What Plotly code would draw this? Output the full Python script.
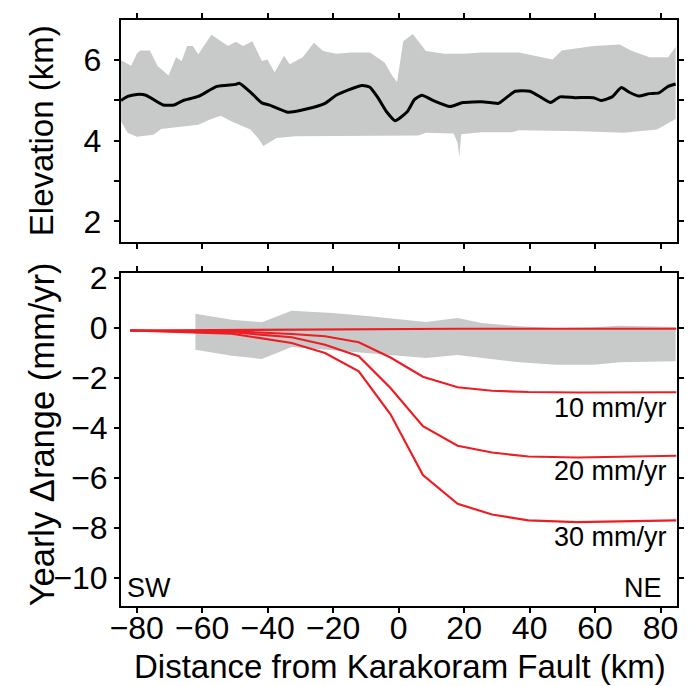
import plotly.graph_objects as go

# ---------------- data ----------------
# Elevation profile (km) vs distance from Karakoram Fault (km)
elev_mean_x = [-84.8, -82.8, -80.0, -77.2, -72.0, -68.6, -65.8, -61.2, -55.5, -49.8, -48.7,
               -45.3, -41.8, -39.6, -33.9, -28.2, -22.5, -19.1, -15.7, -11.1, -8.8, -6.5,
               -3.7, -1.1, 2.6, 4.8, 7.1, 10.5, 15.7, 19.6, 25.3, 28.8, 30.5, 35.6, 40.1,
               43.6, 46.4, 49.3, 53.8, 59.5, 61.8, 65.2, 68.0, 70.3, 73.2, 76.6, 79.5,
               82.3, 84.6]
elev_mean = [5.00, 5.10, 5.15, 5.13, 4.89, 4.89, 5.00, 5.10, 5.35, 5.40, 5.43,
             5.21, 4.94, 4.89, 4.71, 4.79, 4.93, 5.13, 5.25, 5.37, 5.33, 5.09,
             4.72, 4.50, 4.72, 5.02, 5.13, 5.00, 4.85, 4.95, 4.97, 4.94, 4.93, 5.23, 5.23,
             5.07, 4.95, 5.09, 5.07, 5.07, 5.00, 5.09, 5.32, 5.21, 5.11, 5.17, 5.19,
             5.35, 5.41]

elev_max_x = [-84.8, -81.7, -80.0, -78.9, -76.0, -73.7, -70.3, -68.0, -66.3, -64.6, -62.9,
              -61.2, -57.2, -54.4, -52.1, -49.8, -47.5, -44.7, -41.8, -40.1, -37.9, -35.0,
              -33.3, -29.3, -25.9, -23.1, -19.1, -14.5, -8.8, -4.3, -2.0, -0.5, 1.4, 4.3,
              8.3, 14.0, 19.6, 25.3, 36.7, 47.0, 49.8, 59.5, 67.5, 70.9, 76.6, 82.3, 84.6]
elev_max = [6.00, 5.86, 6.16, 6.24, 6.24, 5.86, 5.62, 6.07, 5.98, 6.35, 6.35,
            6.15, 6.63, 6.47, 6.35, 6.46, 6.35, 6.47, 5.98, 6.02, 5.70, 6.11,
            5.90, 6.07, 6.43, 6.23, 6.16, 6.19, 6.19, 5.94, 5.62, 5.46, 6.47, 6.65,
            6.23, 6.16, 6.16, 6.19, 6.19, 6.02, 6.24, 6.35, 6.39, 6.24, 6.07, 6.07, 6.33]

elev_min_x = [-84.8, -82.8, -80.0, -74.9, -72.6, -61.2, -57.8, -54.4, -51.0, -45.3, -43.0,
              -41.3, -37.3, -31.6, -14.5, 6.0, 8.3, 16.8, 18.0, 18.5, 19.1, 25.3, 34.5,
              36.7, 56.1, 68.6, 78.9, 82.3, 84.6]
elev_min = [4.48, 4.20, 4.10, 4.15, 4.29, 4.40, 4.52, 4.62, 4.48, 4.28, 4.07,
            3.87, 4.07, 4.11, 4.11, 4.13, 4.20, 4.18, 3.95, 3.59, 4.16, 4.21, 4.21,
            4.26, 4.24, 4.20, 4.28, 4.44, 4.54]

# Observed yearly range change envelope (mm/yr)
obs_x = [-62.1, -51.0, -41.8, -32.7, -20.2, -8.8, 8.3, 18.0, 25.3, 36.7, 48.1, 59.5, 67.5, 84.6]
obs_upper = [0.57, 0.33, 0.23, 0.69, 0.60, 0.47, 0.24, 0.40, 0.20, 0.07, 0.00, 0.03, 0.09, 0.04]
obs_lower = [-0.87, -1.11, -1.24, -0.76, -0.89, -1.00, -1.20, -1.08, -1.20, -1.37, -1.47, -1.47, -1.37, -1.33]

# Modelled yearly range change for different slip rates
model_x = [-82.0, -51.0, -32.7, -22.5, -12.2, -2.5, 7.4, 18.0, 28.5, 39.6, 54.4, 84.8]
model_0 = [-0.10, -0.07, -0.05, -0.04, -0.03, -0.03, -0.03, -0.03, -0.03, -0.03, -0.03, -0.03]
model_10 = [-0.10, -0.13, -0.24, -0.33, -0.57, -1.18, -1.95, -2.37, -2.51, -2.56, -2.58, -2.57]
model_20 = [-0.10, -0.17, -0.37, -0.67, -1.13, -2.40, -3.93, -4.71, -4.98, -5.14, -5.18, -5.11]
model_30 = [-0.10, -0.23, -0.60, -1.00, -1.73, -3.45, -5.88, -7.03, -7.46, -7.69, -7.76, -7.69]
rate_labels = ["10 mm/yr", "20 mm/yr", "30 mm/yr"]
rate_label_y = [-3.2, -5.7, -8.35]

x_ticks = [-80, -60, -40, -20, 0, 20, 40, 60, 80]
elev_ticks = [2, 3, 4, 5, 6]
elev_ticktext = ["2", "", "4", "", "6"]
range_ticks = [2, 0, -2, -4, -6, -8, -10]

x_title = "Distance from Karakoram Fault (km)"
elev_title = "Elevation (km)"
range_title = "Yearly \u0394range (mm/yr)"

# ---------------- style ----------------
FONT = "Arial, Liberation Sans, sans-serif"
GRAY = "rgb(200,201,201)"
RED = "rgb(236,30,36)"
TICK_FS = 32
TITLE_FS = 33
ANN_FS = 27
THIN = "\u2009"

W, H = 695, 686
xdom = [112 / W, 678 / W]
top_dom = [1 - 233 / H, 1 - 7 / H]
bot_dom = [1 - 604 / H, 1 - 265 / H]
XRANGE = [-84.8, 85.1]

fig = go.Figure()

# top panel: elevation envelope + mean
fig.add_trace(go.Scatter(
    x=elev_max_x + elev_min_x[::-1], y=elev_max + elev_min[::-1],
    fill="toself", fillcolor=GRAY, line=dict(width=0), mode="lines",
    hoverinfo="skip", xaxis="x", yaxis="y"))
fig.add_trace(go.Scatter(
    x=elev_mean_x, y=elev_mean, mode="lines",
    line=dict(color="black", width=3, shape="spline", smoothing=0.5), xaxis="x", yaxis="y"))

# bottom panel: observed envelope
fig.add_trace(go.Scatter(
    x=obs_x + obs_x[::-1], y=obs_upper + obs_lower[::-1],
    fill="toself", fillcolor=GRAY, line=dict(width=0), mode="lines",
    hoverinfo="skip", xaxis="x2", yaxis="y2"))
for ys in (model_0, model_10, model_20, model_30):
    fig.add_trace(go.Scatter(
        x=model_x, y=ys, mode="lines",
        line=dict(color=RED, width=2.2), xaxis="x2", yaxis="y2"))

# empty trace that only carries the tick-label axis of the bottom panel
fig.add_trace(go.Scatter(x=x_ticks, y=[None] * len(x_ticks), mode="lines",
                         hoverinfo="skip", xaxis="x3", yaxis="y2"))

annotations = []
for lab, yy in zip(rate_labels, rate_label_y):
    annotations.append(dict(x=82.5, y=yy, xref="x2", yref="y2", text=lab,
                            showarrow=False, xanchor="right", yanchor="middle",
                            font=dict(family=FONT, size=ANN_FS, color="black")))
annotations.append(dict(x=-83.5, y=-10.4, xref="x2", yref="y2", text="SW",
                        showarrow=False, xanchor="left", yanchor="middle",
                        font=dict(family=FONT, size=ANN_FS, color="black")))
annotations.append(dict(x=81, y=-10.4, xref="x2", yref="y2", text="NE",
                        showarrow=False, xanchor="right", yanchor="middle",
                        font=dict(family=FONT, size=ANN_FS, color="black")))
# axis titles as annotations for exact placement
annotations.append(dict(x=396 / W, y=1 - 666 / H, xref="paper", yref="paper", text=x_title,
                        showarrow=False, xanchor="center", yanchor="middle",
                        font=dict(family=FONT, size=TITLE_FS, color="black")))
annotations.append(dict(x=31 / W, y=sum(top_dom) / 2, xref="paper", yref="paper",
                        text=elev_title, textangle=-90,
                        showarrow=False, xanchor="center", yanchor="middle",
                        font=dict(family=FONT, size=TITLE_FS, color="black")))
annotations.append(dict(x=31 / W, y=1 - 429 / H, xref="paper", yref="paper",
                        text=range_title, textangle=-90,
                        showarrow=False, xanchor="center", yanchor="middle",
                        font=dict(family=FONT, size=TITLE_FS + 1.5, color="black")))

axis_common = dict(showline=True, linecolor="black", linewidth=2, mirror="ticks",
                   ticks="outside", ticklen=5, tickwidth=1.5, tickcolor="black",
                   showgrid=False, zeroline=False,
                   tickfont=dict(family=FONT, size=TICK_FS, color="black"))

fig.update_layout(
    width=W, height=H, margin=dict(l=0, r=0, t=0, b=0),
    paper_bgcolor="white", plot_bgcolor="white", showlegend=False,
    xaxis=dict(domain=xdom, anchor="y", range=XRANGE, tickvals=x_ticks,
               showticklabels=False, **axis_common),
    yaxis=dict(domain=top_dom, anchor="x", range=[1.5, 7.0], tickvals=elev_ticks,
               ticktext=[t + THIN if t else t for t in elev_ticktext], **axis_common),
    xaxis2=dict(domain=xdom, anchor="y2", range=XRANGE, tickvals=x_ticks,
                showticklabels=False, **axis_common),
    xaxis3=dict(overlaying="x2", anchor="free", position=1 - 604 / H, side="bottom",
                range=XRANGE, tickvals=x_ticks, ticks="", showline=False,
                showgrid=False, zeroline=False,
                tickfont=dict(family=FONT, size=TICK_FS, color="black")),
    yaxis2=dict(domain=bot_dom, anchor="x2", range=[-11.1, 2.2], tickvals=range_ticks,
                ticksuffix=THIN, **axis_common),
    annotations=annotations,
)

fig.write_html("out.html")
